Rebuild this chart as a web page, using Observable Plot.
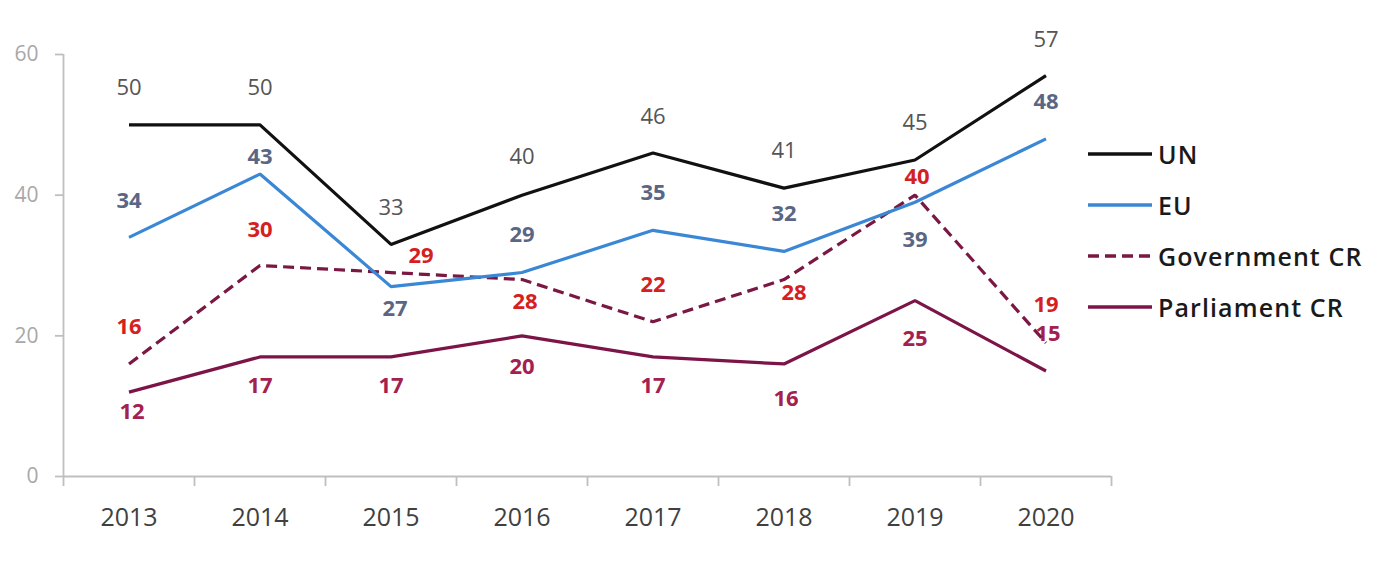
<!DOCTYPE html>
<html>
<head>
<meta charset="utf-8">
<script src="https://cdn.jsdelivr.net/npm/d3@7"></script>
<script src="https://cdn.jsdelivr.net/npm/@observablehq/plot@0.6"></script>
<style>
  html, body { margin: 0; padding: 0; background: #fff; }
  #wrap { position: relative; width: 1400px; height: 576px; font-family: "Open Sans", sans-serif; }
  #legend { position: absolute; left: 1088px; top: 128px; }
  .row { display: flex; align-items: center; height: 51px; }
  .row span { font-size: 25px; font-weight: 600; color: #1a1a1a; letter-spacing: 1.1px; margin-left: 6px; }
</style>
</head>
<body>
<div id="wrap"></div>
<script>
const years = [2013, 2014, 2015, 2016, 2017, 2018, 2019, 2020];
const un = [50, 50, 33, 40, 46, 41, 45, 57];
const eu = [34, 43, 27, 29, 35, 32, 39, 48];
const government = [16, 30, 29, 28, 22, 28, 40, 19];
const parliament = [12, 17, 17, 20, 17, 16, 25, 15];
const yTicks = [0, 20, 40, 60];

// label offsets (pixels) relative to each point
const unLabelDy = [-37, -37, -36, -38, -36, -37, -37, -36];
const euLabelDy = [-36, -17, 22, -38, -37, -37, 38, -37];
const euLabelDx = [0, 0, 4, 0, 0, 0, 0, 0];
const govLabelDy = [-37, -36, -17, 22, -37, 13, -18, -38];
const govLabelDx = [0, 0, 30, 3, 0, 10, 2, 0];
const parlLabelDy = [20, 29, 29, 31, 29, 35, 38, -37];
const parlLabelDx = [3, 0, 0, 0, 0, 2, 0, 2];

const series = [
  {name: "UN", values: un, stroke: "#111111", dash: null, labelColor: "#555555", weight: "normal", dy: unLabelDy, dx: years.map(() => 0)},
  {name: "EU", values: eu, stroke: "#3a87d6", dash: null, labelColor: "#5a6684", weight: "bold", dy: euLabelDy, dx: euLabelDx},
  {name: "Government CR", values: government, stroke: "#7a1843", dash: "11,6", labelColor: "#d42020", weight: "bold", dy: govLabelDy, dx: govLabelDx},
  {name: "Parliament CR", values: parliament, stroke: "#7d1448", dash: null, labelColor: "#a3204f", weight: "bold", dy: parlLabelDy, dx: parlLabelDx}
];

const bounds = d3.range(years[0] - 0.5, years[years.length - 1] + 1, 1);
const xMin = bounds[0], xMax = bounds[bounds.length - 1];

const labelMarks = [];
for (const s of series) {
  years.forEach((yr, i) => {
    labelMarks.push(Plot.text([{year: yr, value: s.values[i]}], {
      x: "year", y: "value", text: d => String(d.value),
      dx: s.dx[i], dy: s.dy[i], fill: s.labelColor, fontWeight: s.weight,
      fontSize: 22
    }));
  });
}

const lineMarks = series.slice().reverse().map(s => Plot.line(years.map((yr, i) => ({year: yr, value: s.values[i]})), {
  x: "year", y: "value", stroke: s.stroke, strokeWidth: 3.2,
  strokeDasharray: s.dash || undefined, strokeLinejoin: "miter", strokeLinecap: "butt"
}));

const chart = Plot.plot({
  width: 1400,
  height: 576,
  marginLeft: 63,
  marginRight: 289,
  marginTop: 54,
  marginBottom: 100,
  style: {fontFamily: "Open Sans, sans-serif", background: "#fff"},
  x: {type: "linear", domain: [xMin, xMax]},
  y: {domain: [0, 60]},
  marks: [
    Plot.ruleX([xMin], {y1: 0, y2: 60, stroke: "#bfbfbf", strokeWidth: 1.8}),
    Plot.ruleY([0], {x1: xMin, x2: xMax, stroke: "#bfbfbf", strokeWidth: 1.8}),
    Plot.axisY({ticks: yTicks, tickSize: 8, tickPadding: 17, fontSize: 21, color: "#a8a8a8", stroke: "#bfbfbf", strokeWidth: 1.8, label: null}),
    Plot.axisX({ticks: bounds, tickSize: 10, tickFormat: () => "", stroke: "#bfbfbf", strokeWidth: 1.8, label: null}),
    Plot.axisX({ticks: years, tickSize: 0, tickPadding: 32, tickFormat: d => String(d), fontSize: 25, color: "#404040", label: null}),
    ...labelMarks,
    ...lineMarks
  ]
});

const wrap = document.getElementById("wrap");
wrap.appendChild(chart);

const legend = document.createElement("div");
legend.id = "legend";
for (const s of series) {
  const row = document.createElement("div");
  row.className = "row";
  row.innerHTML = `<svg width="64" height="10"><line x1="0" x2="64" y1="5" y2="5" stroke="${s.stroke}" stroke-width="3.6" ${s.dash ? `stroke-dasharray="${s.dash}"` : ""}/></svg><span>${s.name}</span>`;
  legend.appendChild(row);
}
wrap.appendChild(legend);
</script>
</body>
</html>
